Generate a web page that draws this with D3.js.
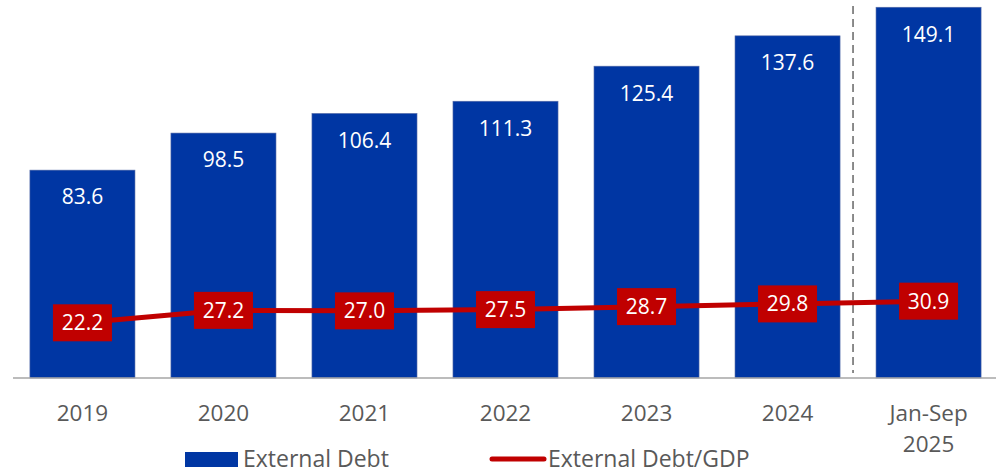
<!DOCTYPE html>
<html><head><meta charset="utf-8">
<script src="https://cdn.jsdelivr.net/npm/d3@7"></script>
<style>body{margin:0;background:#fff}svg{display:block}</style>
</head><body>
<script>
const categories = ["2019","2020","2021","2022","2023","2024","Jan-Sep\n2025"];
const externalDebt = [83.6, 98.5, 106.4, 111.3, 125.4, 137.6, 149.1];
const debtToGDP = [22.2, 27.2, 27.0, 27.5, 28.7, 29.8, 30.9];
const seriesNames = ["External Debt", "External Debt/GDP"];

const W = 996, H = 475;
const blue = "#0036A3", red = "#C00000", txt = "#595959";
const font = "'Open Sans', sans-serif";
const svg = d3.select("body").append("svg").attr("width", W).attr("height", H);

const x = d3.scaleBand().domain(categories).range([12, 999]).paddingInner(0.255).paddingOuter(0.127);
const y = d3.scaleLinear().domain([0, 150]).range([378, 5]);
const y2 = d3.scaleLinear().domain([0, 150]).range([378, 5]);

// bars
svg.selectAll("rect.bar").data(externalDebt).join("rect")
  .attr("x", (d,i) => x(categories[i])).attr("y", d => y(d))
  .attr("width", x.bandwidth()).attr("height", d => y(0) - y(d))
  .attr("fill", blue).attr("stroke", "#5a6fa8").attr("stroke-width", 0.6);

svg.selectAll("text.bl").data(externalDebt).join("text")
  .attr("x", (d,i) => x(categories[i]) + x.bandwidth()/2)
  .attr("y", d => y(d) + 27).attr("dy", "0.35em")
  .attr("text-anchor", "middle").attr("fill", "#fff")
  .attr("font-family", font).attr("font-size", 21).text(d => d.toFixed(1));

// axis
svg.append("line").attr("x1", 13).attr("x2", 996).attr("y1", y(0)).attr("y2", y(0))
  .attr("stroke", "#A6A6A6").attr("stroke-width", 1.5);

// dashed separator before the last category
const sepX = x(categories[6]) - 23;
svg.append("line").attr("x1", sepX).attr("x2", sepX).attr("y1", 6).attr("y2", y(0) - 5)
  .attr("stroke", "#666").attr("stroke-width", 1.5).attr("stroke-dasharray", "8,5");

// category labels
categories.forEach((c, i) => {
  const cx = x(c) + x.bandwidth()/2;
  const t = svg.append("text").attr("x", cx).attr("y", 413)
    .attr("text-anchor", "middle").attr("fill", txt).attr("font-family", font).attr("font-size", 22.5);
  c.split("\n").forEach((ln, k) => {
    t.append("tspan").attr("x", cx).attr("dy", k === 0 ? "0.35em" : "1.38em").text(ln);
  });
});

// line
const line = d3.line().x((d,i) => x(categories[i]) + x.bandwidth()/2).y(d => y2(d));
svg.append("path").datum(debtToGDP).attr("d", line).attr("fill", "none")
  .attr("stroke", red).attr("stroke-width", 5);

const lg = svg.selectAll("g.ll").data(debtToGDP).join("g")
  .attr("transform", (d,i) => `translate(${x(categories[i]) + x.bandwidth()/2},${y2(d)})`);
lg.append("rect").attr("x", -29.5).attr("y", -18.5).attr("width", 59).attr("height", 37).attr("fill", red);
lg.append("text").attr("text-anchor", "middle").attr("dy", "0.35em").attr("fill", "#fff")
  .attr("font-family", font).attr("font-size", 21).text(d => d.toFixed(1));

// legend
svg.append("rect").attr("x", 185).attr("y", 452).attr("width", 53).attr("height", 15).attr("fill", blue);
svg.append("text").attr("x", 243).attr("y", 459).attr("dy", "0.35em").attr("fill", txt)
  .attr("font-family", font).attr("font-size", 23).text(seriesNames[0]);
svg.append("line").attr("x1", 492).attr("x2", 544).attr("y1", 459).attr("y2", 459)
  .attr("stroke", red).attr("stroke-width", 5).attr("stroke-linecap", "round");
svg.append("text").attr("x", 548).attr("y", 459).attr("dy", "0.35em").attr("fill", txt)
  .attr("font-family", font).attr("font-size", 23).text(seriesNames[1]);
</script>
</body></html>
